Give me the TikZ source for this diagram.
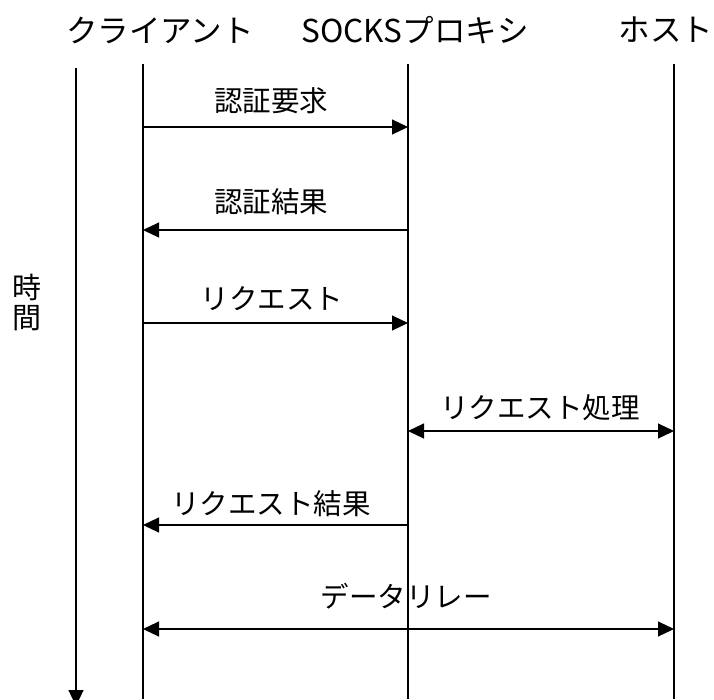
\documentclass[tikz,border=0pt]{standalone}
\usepackage{fontspec}
\setmainfont{Noto Sans CJK JP}
\usetikzlibrary{arrows.meta}
\begin{document}
\begin{tikzpicture}[x=1pt,y=-1pt,
  life/.style={line width=1.1pt},
  msg/.style={line width=1.1pt,-{Triangle[length=16pt,width=15pt]}},
  bimsg/.style={line width=1.1pt,{Triangle[length=16pt,width=15pt]}-{Triangle[length=16pt,width=15pt]}},
  head/.style={font=\fontsize{31.5}{31.5}\selectfont, inner sep=0pt},
  lbl/.style={font=\fontsize{28.5}{28.5}\selectfont, inner sep=0pt}]
\useasboundingbox (0,0) rectangle (714,699);
% headers
\node[head] (hc) at (160,30) {クライアント};
\node[head] (hp) at (415,30) {SOCKSプロキシ};
\node[head] (hh) at (666,30) {ホスト};
% lifelines
\coordinate (ct) at (143,64); \coordinate (cb) at (143,699);
\coordinate (pt) at (408,64); \coordinate (pb) at (408,699);
\coordinate (ht) at (674,64); \coordinate (hb) at (674,699);
\draw[life] (ct) -- (cb);
\draw[life] (pt) -- (pb);
\draw[life] (ht) -- (hb);
% time axis
\coordinate (ta) at (76,68); \coordinate (tb) at (76,706);
\draw[msg] (ta) -- (tb);
\node[lbl, font=\fontsize{29}{29}\selectfont, align=center] (time) at (27,302) {時\\[1pt]間};
% messages
\coordinate (c1) at (143,127); \coordinate (p1) at (408,127);
\draw[msg] (c1) -- (p1);
\node[lbl] (l1) at (271,101) {認証要求};
\coordinate (c2) at (143,230); \coordinate (p2) at (408,230);
\draw[msg] (p2) -- (c2);
\node[lbl] (l2) at (271,202) {認証結果};
\coordinate (c3) at (143,323); \coordinate (p3) at (408,323);
\draw[msg] (c3) -- (p3);
\node[lbl] (l3) at (272,299) {リクエスト};
\coordinate (p4) at (408,431); \coordinate (h4) at (674,431);
\draw[bimsg] (p4) -- (h4);
\node[lbl] (l4) at (540,408) {リクエスト処理};
\coordinate (c5) at (143,525); \coordinate (p5) at (408,525);
\draw[msg] (p5) -- (c5);
\node[lbl] (l5) at (271,504) {リクエスト結果};
\coordinate (c6) at (143,629); \coordinate (h6) at (674,629);
\draw[bimsg] (c6) -- (h6);
\node[lbl] (l6) at (406,596) {データリレー};
\end{tikzpicture}
\end{document}
